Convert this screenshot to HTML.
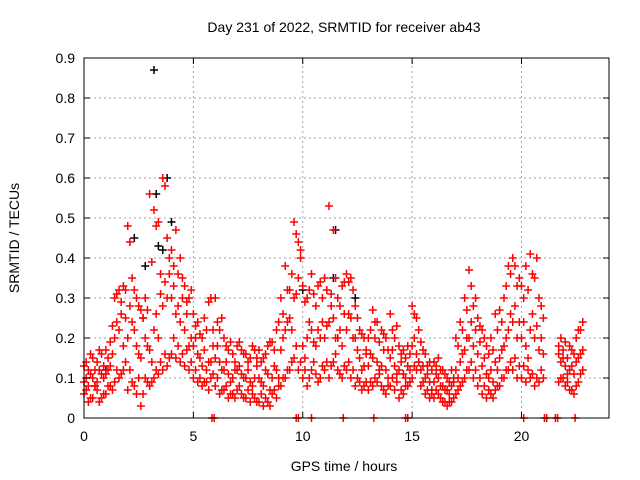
<!DOCTYPE html>
<html><head><meta charset="utf-8"><style>
body{margin:0;background:#fff}
svg{display:block;font-family:"Liberation Sans",sans-serif}
</style></head><body>
<svg id="chart" width="640" height="480">
<rect width="640" height="480" fill="#fff"/>
<g id="grid"></g>
<g id="marks"></g>
<rect x="84" y="58" width="525" height="360" fill="none" stroke="#000" stroke-width="1"/>
<g id="ticks"></g>
<text x="344" y="32" text-anchor="middle" font-size="14">Day 231 of 2022, SRMTID for receiver ab43</text>
<text x="344" y="471" text-anchor="middle" font-size="14">GPS time / hours</text>
<text transform="translate(19,238) rotate(-90)" text-anchor="middle" font-size="14">SRMTID / TECUs</text>
</svg>
<script>
const times=[0,0.2,0.4,0.6,0.8,1,1.2,1.4,1.6,1.8,2,2.2,2.4,2.6,2.8,3,3.2,3.4,3.6,3.8,4,4.2,4.4,4.6,4.8,5,5.2,5.4,5.6,5.8,6,6.2,6.4,6.6,6.8,7,7.2,7.4,7.6,7.8,8,8.2,8.4,8.6,8.8,9,9.2,9.4,9.6,9.8,10,10.2,10.4,10.6,10.8,11,11.2,11.4,11.6,11.8,12,12.2,12.4,12.6,12.8,13,13.2,13.4,13.6,13.8,14,14.2,14.4,14.6,14.8,15,15.2,15.4,15.6,15.8,16,16.2,16.4,16.6,16.8,17,17.2,17.4,17.6,17.8,18,18.2,18.4,18.6,18.8,19,19.2,19.4,19.6,19.8,20,20.2,20.4,20.6,20.8,21,21.8,22,22.2,22.4,22.6,22.8];
const redLow=[.06,.04,.05,.07,.05,.06,.08,.09,.1,.12,.07,.09,.06,.03,.1,.08,.1,.11,.12,.13,.16,.15,.14,.13,.12,.1,.09,.08,.09,.1,.08,.06,.07,.05,.06,.07,.06,.05,.04,.05,.04,.03,.04,.06,.05,.08,.1,.12,.15,.12,.1,.08,.12,.11,.1,.12,.1,.14,.12,.1,.12,.1,.08,.09,.08,.07,.08,.09,.08,.06,.08,.07,.05,.06,.08,.1,.12,.08,.06,.05,.05,.06,.04,.03,.04,.06,.08,.1,.12,.1,.08,.06,.05,.06,.07,.08,.1,.12,.12,.1,.1,.09,.1,.08,.09,.1,.1,.08,.07,.06,.09,.12];
const redMid=[.09,.08,.1,.09,.11,.11,.13,.2,.22,.18,.2,.24,.18,.15,.2,.17,.22,.2,.28,.3,.3,.26,.24,.22,.18,.18,.16,.13,.12,.14,.15,.14,.12,.11,.1,.12,.11,.1,.09,.1,.1,.08,.11,.1,.12,.17,.22,.25,.3,.35,.18,.2,.22,.18,.2,.2,.24,.25,.2,.18,.22,.25,.2,.15,.13,.13,.15,.14,.13,.12,.15,.13,.12,.11,.13,.18,.16,.12,.1,.09,.09,.1,.08,.07,.08,.12,.14,.17,.2,.18,.16,.13,.11,.12,.14,.15,.18,.22,.24,.2,.2,.18,.22,.2,.17,.16,.14,.13,.12,.11,.15,.17];
const redHigh=[.13,.12,.15,.14,.16,.17,.19,.3,.32,.33,.48,.35,.3,.27,.3,.56,.52,.49,.6,.45,.42,.47,.4,.33,.3,.26,.24,.2,.22,.3,.3,.22,.2,.17,.16,.18,.17,.16,.15,.17,.17,.15,.18,.19,.22,.3,.38,.32,.49,.44,.33,.3,.36,.28,.34,.35,.53,.47,.3,.33,.36,.35,.28,.22,.2,.2,.27,.24,.22,.2,.26,.2,.18,.17,.18,.28,.25,.19,.16,.14,.14,.15,.12,.1,.12,.2,.24,.3,.37,.28,.25,.22,.18,.2,.26,.27,.3,.38,.4,.33,.33,.38,.41,.35,.3,.25,.2,.19,.18,.16,.22,.24];
const times2=[0.1,0.3,0.5,0.7,0.9,1.1,1.3,1.5,1.7,1.9,2.1,2.3,2.5,2.7,2.9,3.1,3.3,3.5,3.7,3.9,4.1,4.3,4.5,4.7,4.9,5.1,5.3,5.5,5.7,5.9,6.1,6.3,6.5,6.7,6.9,7.1,7.3,7.5,7.7,7.9,8.1,8.3,8.5,8.7,8.9,9.1,9.3,9.5,9.7,9.9,10.1,10.3,10.5,10.7,10.9,11.1,11.3,11.5,11.7,11.9,12.1,12.3,12.5,12.7,12.9,13.1,13.3,13.5,13.7,13.9,14.1,14.3,14.5,14.7,14.9,15.1,15.3,15.5,15.7,15.9,16.1,16.3,16.5,16.7,16.9,17.1,17.3,17.5,17.7,17.9,18.1,18.3,18.5,18.7,18.9,19.1,19.3,19.5,19.7,19.9,20.1,20.3,20.5,20.7,20.9,21.7,21.9,22.1,22.3,22.5,22.7];
const redLow2=[.07,.05,.08,.04,.06,.08,.07,.12,.11,.14,.12,.08,.1,.06,.09,.09,.12,.14,.16,.15,.2,.18,.16,.17,.14,.12,.1,.09,.07,.11,.1,.07,.08,.06,.05,.08,.05,.07,.06,.04,.06,.05,.03,.07,.08,.1,.12,.14,.18,.14,.12,.1,.14,.09,.13,.14,.13,.16,.11,.13,.14,.12,.1,.07,.09,.09,.1,.11,.07,.08,.1,.09,.07,.08,.09,.13,.14,.09,.07,.06,.07,.05,.04,.04,.05,.07,.09,.12,.14,.12,.1,.08,.07,.05,.08,.1,.12,.14,.15,.13,.13,.12,.11,.1,.12,.09,.1,.09,.07,.08,.11];
const redMid2=[.1,.11,.08,.12,.1,.12,.16,.24,.26,.25,.28,.22,.16,.25,.18,.14,.26,.31,.34,.36,.33,.28,.3,.26,.2,.2,.15,.17,.14,.18,.18,.12,.14,.09,.12,.13,.1,.12,.08,.13,.09,.12,.07,.13,.1,.2,.24,.22,.31,.4,.15,.24,.19,.22,.24,.23,.28,.2,.22,.26,.26,.2,.17,.12,.16,.16,.2,.12,.17,.1,.17,.11,.14,.1,.12,.2,.14,.13,.11,.07,.11,.08,.07,.06,.09,.1,.16,.2,.24,.22,.19,.15,.1,.09,.12,.17,.2,.26,.28,.24,.24,.15,.26,.23,.2,.16,.15,.11,.13,.14,.16];
const redHigh2=[.14,.16,.12,.17,.13,.15,.23,.31,.29,.32,.44,.32,.28,.25,.27,.39,.48,.36,.58,.4,.38,.36,.35,.29,.32,.23,.21,.25,.29,.22,.24,.25,.18,.19,.14,.19,.16,.14,.18,.15,.14,.16,.19,.17,.24,.26,.32,.36,.46,.42,.29,.32,.31,.33,.3,.32,.31,.35,.28,.34,.34,.32,.25,.21,.17,.22,.24,.19,.21,.17,.22,.23,.16,.15,.16,.26,.22,.17,.13,.12,.13,.12,.11,.09,.1,.18,.22,.27,.33,.3,.23,.2,.16,.17,.22,.24,.33,.36,.38,.35,.3,.32,.36,.4,.28,.18,.17,.15,.17,.2,.22];
const blackTimes=[1.0,2.3,2.8,3.2,3.3,3.4,3.6,3.8,4.0,10.0,11.4,11.5,12.4];
const blackValues=[.12,.45,.38,.87,.56,.43,.42,.6,.49,.32,.35,.47,.3];
const zeroTimes=[5.85,5.95,9.7,9.8,10.4,11.85,13.25,14.7,14.8,20.1,21.05,21.15,21.55,21.65,22.45];
const xTicks=[0,5,10,15,20];
const yTicks=[0,0.1,0.2,0.3,0.4,0.5,0.6,0.7,0.8,0.9];
const yTickLabels=["0","0.1","0.2","0.3","0.4","0.5","0.6","0.7","0.8","0.9"];

const NS="http://www.w3.org/2000/svg";
const X0=84,X1=609,Y0=418,Y1=58,XMAX=24,YMAX=0.9;
function xs(t){return X0+(X1-X0)*t/XMAX;}
function ys(v){return Y0-(Y0-Y1)*v/YMAX;}
const grid=document.getElementById('grid'),ticks=document.getElementById('ticks'),marks=document.getElementById('marks');
function mk(tag,attrs,parent){const e=document.createElementNS(NS,tag);for(const k in attrs)e.setAttribute(k,attrs[k]);parent.appendChild(e);return e;}
yTicks.forEach((v,i)=>{
  const y=ys(v);
  if(i>0&&i<yTicks.length-1){const g=mk('line',{x1:X0,x2:X1,y1:y,y2:y,stroke:'#a0a0a0','stroke-dasharray':'2,3'},grid);
  
  }
  mk('line',{x1:X0,x2:X0+6,y1:y,y2:y,stroke:'#000'},ticks);
  mk('line',{x1:X1,x2:X1-6,y1:y,y2:y,stroke:'#000'},ticks);
  const t=mk('text',{x:X0-9,y:y+5,'text-anchor':'end','font-size':'14'},ticks);
  t.textContent=yTickLabels[i];
  
  
});
xTicks.forEach(v=>{
  const x=xs(v);
  if(v>0){const g=mk('line',{x1:x,x2:x,y1:Y0,y2:Y1,stroke:'#a0a0a0','stroke-dasharray':'2,3'},grid);
  
  }
  mk('line',{x1:x,x2:x,y1:Y0,y2:Y0-6,stroke:'#000'},ticks);
  mk('line',{x1:x,x2:x,y1:Y1,y2:Y1+6,stroke:'#000'},ticks);
  const t=mk('text',{x:x,y:Y0+23,'text-anchor':'middle','font-size':'14'},ticks);
  t.textContent=String(v);
  
  
});
function plus(t,v,color,name){
  const x=xs(t),y=ys(v);
  const p=mk('path',{d:`M${x-4},${y}H${x+4}M${x},${y-4}V${y+4}`,stroke:color,'stroke-width':'1.5',fill:'none'},marks);
  
  
}
blackTimes.forEach((t,i)=>plus(t,blackValues[i],'#000','black-point'));
times.forEach((t,i)=>{
  plus(t,redLow[i],'#f00','red-point');
  plus(t,redMid[i],'#f00','red-point');
  plus(t,redHigh[i],'#f00','red-point');
});
times2.forEach((t,i)=>{
  plus(t,redLow2[i],'#f00','red-point');
  plus(t,redMid2[i],'#f00','red-point');
  plus(t,redHigh2[i],'#f00','red-point');
});
zeroTimes.forEach(t=>plus(t,0,'#f00','red-zero-point'));
</script>
</body></html>
